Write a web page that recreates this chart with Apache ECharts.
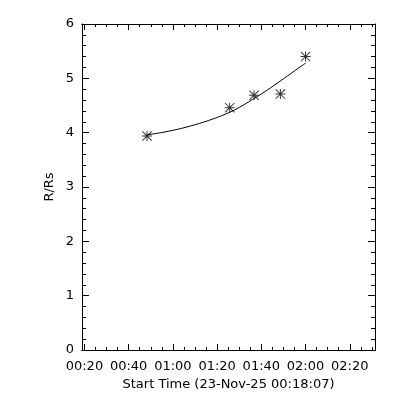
<!DOCTYPE html>
<html><head><meta charset="utf-8">
<script src="https://cdn.jsdelivr.net/npm/echarts@6/dist/echarts.min.js"></script>
<style>html,body{margin:0;padding:0;background:#fff}#c{width:400px;height:400px}</style>
</head><body><div id="c"></div>
<script>
// time in minutes after 00:00 (23-Nov-25)
const obsTime = [48.3, 85.7, 96.7, 108.6, 120.0];
const obsHeight = [3.94, 4.46, 4.69, 4.71, 5.40];
const fitTime = [48.3, 56, 64, 72, 80, 88, 96, 104, 112, 120];
const fitHeight = [3.96, 4.01, 4.08, 4.17, 4.28, 4.42, 4.61, 4.82, 5.05, 5.28];
const xTickValues = [20, 40, 60, 80, 100, 120, 140];
const xTickLabels = ['00:20', '00:40', '01:00', '01:20', '01:40', '02:00', '02:20'];
const xMinorValues = [25, 30, 35, 45, 50, 55, 65, 70, 75, 85, 90, 95, 105, 110, 115, 125, 130, 135, 145, 150];
const xRange = [18.9, 151.4];
const yRange = [0, 6];
const xTitle = 'Start Time (23-Nov-25 00:18:07)';
const yTitle = 'R/Rs';

const font = {fontFamily: 'DejaVu Sans', fontSize: 13, color: '#000'};
const star = 'path://M0,4.5 L10,4.5 L10,5.5 L0,5.5 Z M4.5,0 L5.5,0 L5.5,10 L4.5,10 Z M0.7,0 L10,9.3 L9.3,10 L0,0.7 Z M9.3,0 L10,0.7 L0.7,10 L0,9.3 Z';
const line = {show: true, lineStyle: {color: '#000', width: 1}};

function xAx(pos, major, labels) {
  return {
    type: 'value', position: pos, min: xRange[0], max: xRange[1],
    axisLine: line,
    axisTick: {show: true, inside: true, length: major ? 6 : 3, customValues: major ? xTickValues : xMinorValues, lineStyle: {color: '#000', width: 1}},
    axisLabel: labels ? Object.assign({show: true, margin: 10, customValues: xTickValues,
      formatter: v => xTickLabels[xTickValues.indexOf(v)] || ''}, font) : {show: false},
    splitLine: {show: false},
    name: labels ? xTitle : '', nameLocation: 'middle', nameGap: 28, nameTextStyle: font
  };
}
function yAx(pos, labels) {
  return {
    type: 'value', position: pos, min: yRange[0], max: yRange[1], interval: 1,
    axisLine: line,
    axisTick: {show: true, inside: true, length: 7, lineStyle: {color: '#000', width: 1}},
    minorTick: {show: true, splitNumber: 5, length: 4, lineStyle: {color: '#000', width: 1}},
    axisLabel: labels ? Object.assign({show: true, margin: 8}, font) : {show: false},
    splitLine: {show: false},
    name: labels ? yTitle : '', nameLocation: 'middle', nameGap: 26, nameRotate: 90,
    nameMoveOverlap: false, nameTextStyle: font
  };
}

const chart = echarts.init(document.getElementById('c'), null, {renderer: 'canvas'});
chart.setOption({
  animation: false,
  backgroundColor: '#fff',
  grid: {left: 82, right: 25, top: 24, bottom: 50, containLabel: false},
  xAxis: [xAx('bottom', true, true), xAx('bottom', false, false), xAx('top', true, false), xAx('top', false, false)],
  yAxis: [yAx('left', true), yAx('right', false)],
  series: [
    {type: 'line', xAxisIndex: 0, yAxisIndex: 0, data: fitTime.map((t, i) => [t, fitHeight[i]]),
     smooth: 0.3, showSymbol: false, lineStyle: {color: '#000', width: 1}},
    {type: 'scatter', xAxisIndex: 0, yAxisIndex: 0, data: obsTime.map((t, i) => [t, obsHeight[i]]),
     symbol: star, symbolSize: 10, itemStyle: {color: '#000'}}
  ]
});
</script></body></html>
